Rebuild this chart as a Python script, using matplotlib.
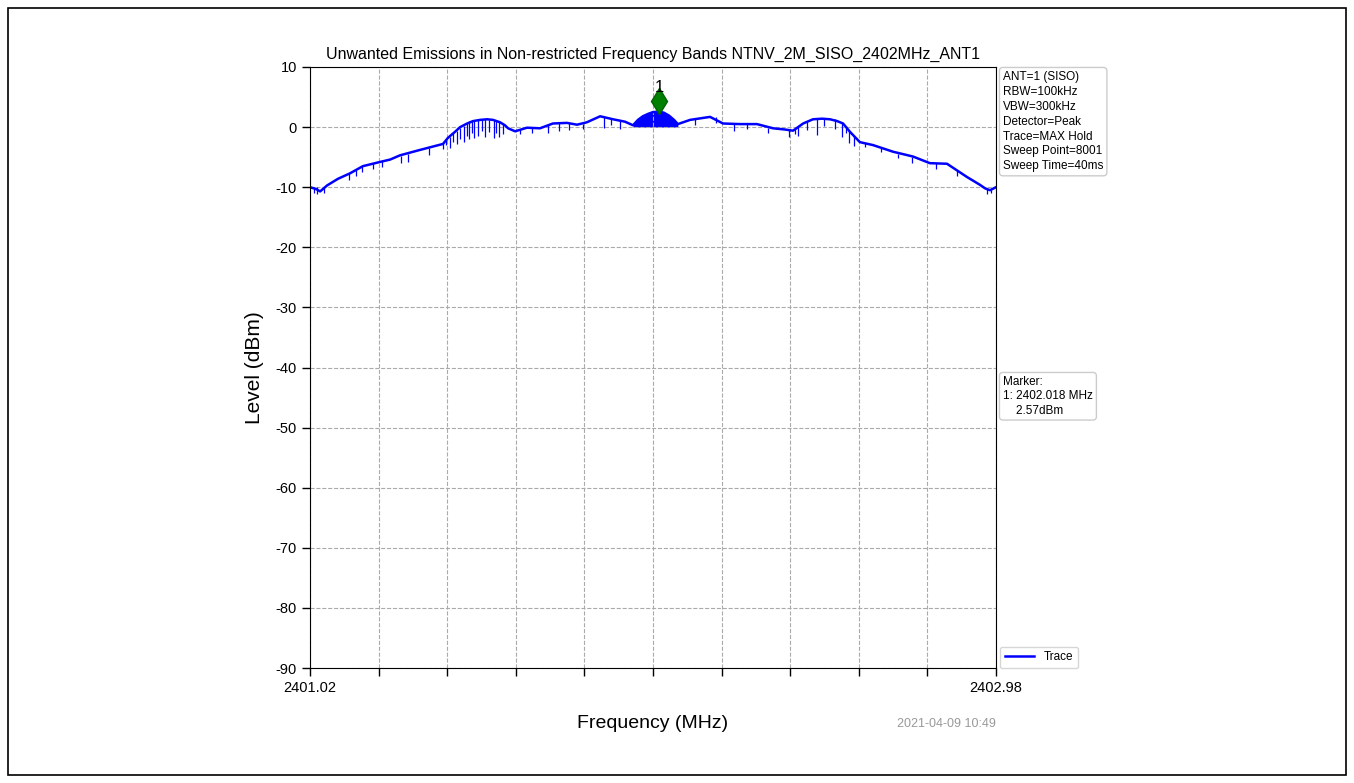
import matplotlib.pyplot as plt
from matplotlib.patches import Rectangle
from matplotlib.transforms import ScaledTranslation

plt.rcParams["font.family"] = ["Liberation Sans", "DejaVu Sans"]
plt.rcParams["axes.unicode_minus"] = False

# Max-hold trace (MHz, dBm)
freq = [2401.020, 2401.037, 2401.049, 2401.069, 2401.100, 2401.134, 2401.171,
        2401.220, 2401.249, 2401.277, 2401.334, 2401.400, 2401.414, 2401.434,
        2401.449, 2401.469, 2401.486, 2401.506, 2401.526, 2401.543, 2401.563,
        2401.577, 2401.586, 2401.606, 2401.640, 2401.677, 2401.714, 2401.754,
        2401.783, 2401.811, 2401.849, 2401.886, 2401.920, 2401.943, 2401.957,
        2401.971, 2401.986, 2402.000, 2402.018, 2402.031, 2402.046, 2402.060,
        2402.071, 2402.106, 2402.163, 2402.200, 2402.249, 2402.297, 2402.343,
        2402.377, 2402.400, 2402.429, 2402.457, 2402.483, 2402.506, 2402.526,
        2402.543, 2402.563, 2402.591, 2402.629, 2402.686, 2402.743, 2402.791,
        2402.840, 2402.897, 2402.934, 2402.949, 2402.963, 2402.980]
level = [-10.0, -10.3, -10.7, -9.7, -8.6, -7.7, -6.5,
         -5.8, -5.4, -4.7, -3.8, -2.8, -1.8, -0.8,
         0.0, 0.6, 1.0, 1.2, 1.3, 1.2, 0.8,
         0.3, -0.2, -0.7, -0.1, -0.2, 0.6, 0.7,
         0.4, 0.8, 1.8, 1.3, 0.9, 0.3, 1.2,
         1.8, 2.2, 2.5, 2.57, 2.4, 1.9, 1.2,
         0.5, 1.2, 1.7, 0.6, 0.5, 0.5, -0.2,
         -0.4, -0.6, 0.6, 1.3, 1.4, 1.3, 1.0,
         0.6, -0.8, -2.5, -3.0, -4.1, -4.9, -6.0,
         -6.1, -8.3, -9.6, -10.2, -10.5, -10.0]

# central lobe, filled down to its floor
lobe_freq = [2401.943, 2401.957, 2401.971, 2401.986, 2402.000, 2402.018,
             2402.031, 2402.046, 2402.060, 2402.071]
lobe_top = [0.3, 1.2, 1.8, 2.2, 2.5, 2.57, 2.4, 1.9, 1.2, 0.5]
lobe_floor = [0.0, 0.0, 0.0, 0.0, 0.0, 0.0, 0.0, 0.0, 0.0, 0.0]

# downward spikes of the trace
spike_freq = [2401.030, 2401.040, 2401.060, 2401.131, 2401.150, 2401.168,
              2401.200, 2401.226, 2401.280, 2401.300, 2401.360, 2401.400,
              2401.410, 2401.420, 2401.430, 2401.440, 2401.450, 2401.460,
              2401.468, 2401.475, 2401.483, 2401.490, 2401.500, 2401.510,
              2401.520, 2401.530, 2401.545, 2401.552, 2401.560, 2401.570,
              2401.620, 2401.655, 2401.700, 2401.730, 2401.760, 2401.800,
              2401.860, 2401.880, 2401.905, 2402.120, 2402.180, 2402.230,
              2402.270, 2402.330, 2402.390, 2402.405, 2402.415, 2402.440,
              2402.470, 2402.490, 2402.520, 2402.540, 2402.550, 2402.560,
              2402.575, 2402.605, 2402.650, 2402.700, 2402.740, 2402.810,
              2402.870, 2402.955, 2402.965]
spike_low = [-11.0, -11.2, -11.0, -8.8, -8.2, -7.5,
             -6.9, -6.6, -6.0, -5.8, -4.6, -3.6,
             -3.0, -3.4, -2.4, -2.8, -2.0, -2.4,
             -1.4, -2.0, -1.0, -1.8, -1.4, -0.6,
             -1.6, -0.8, -1.8, -1.0, -1.6, -1.2,
             -1.2, -1.0, -0.9, -0.6, -0.4, -0.3,
             -0.2, 0.4, -0.3, 0.3, 0.6, -0.6,
             -0.3, -0.9, -1.6, -1.2, -1.5, -0.4,
             -1.3, 0.2, -0.3, -1.6, -1.0, -2.6,
             -3.2, -3.3, -4.2, -5.2, -6.0, -7.0,
             -8.2, -11.2, -11.0]
spike_high = [-10.0, -10.0, -10.2, -7.6, -7.2, -6.5,
              -6.0, -5.7, -4.8, -4.4, -3.5, -2.6,
              -2.2, -1.6, -1.0, -0.6, -0.2, 0.2,
              0.6, 1.0, 1.1, 1.2, 1.2, 1.3,
              1.3, 1.2, 1.2, 1.0, 0.9, 0.5,
              -0.3, -0.1, 0.3, 0.6, 0.7, 0.5,
              1.7, 1.5, 1.1, 1.3, 1.6, 0.6,
              0.5, -0.1, -0.5, -0.3, 0.0, 0.9,
              1.3, 1.4, 1.4, 0.6, 0.2, -0.6,
              -1.5, -2.6, -3.4, -4.4, -4.9, -6.0,
              -7.2, -10.3, -10.4]

marker_freq = 2402.018
marker_level = 2.57

x_ticks = [2401.02 + 0.196 * i for i in range(11)]
x_labels = ["2401.02"] + [""] * 9 + ["2402.98"]
y_ticks = list(range(-90, 11, 10))

info_text = ("ANT=1 (SISO)\nRBW=100kHz\nVBW=300kHz\nDetector=Peak\n"
             "Trace=MAX Hold\nSweep Point=8001\nSweep Time=40ms")
marker_text = "Marker:\n1: %.3f MHz\n    %.2fdBm" % (marker_freq, marker_level)

fig = plt.figure(figsize=(13.54, 7.83), dpi=100)
ax = fig.add_axes([310 / 1354, 1 - 668 / 783, 686 / 1354, 601 / 783])

ax.plot(freq, level, color="blue", lw=1.8, label="Trace", solid_joinstyle="round")
ax.fill_between(lobe_freq, lobe_floor, lobe_top, color="blue", lw=0)
ax.vlines(spike_freq, spike_low, spike_high, color="blue", lw=0.9)

# marker diamond sits just above the peak it labels
lift = ScaledTranslation(0, 11 / 100, fig.dpi_scale_trans)
ax.plot([marker_freq], [marker_level], marker="d", color="green", ms=13,
        mec="darkgreen", ls="none", transform=ax.transData + lift)
ax.annotate("1", (marker_freq, marker_level), xytext=(0, 12), textcoords="offset points",
            ha="center", va="bottom", fontsize=12)

ax.set_xlim(2401.02, 2402.98)
ax.set_ylim(-90, 10)
ax.set_xticks(x_ticks)
ax.set_xticklabels(x_labels, fontsize=10.5)
ax.set_yticks(y_ticks)
ax.tick_params(axis="y", labelsize=10.5)
ax.tick_params(length=6, width=1)
ax.grid(True, color="#aaaaaa", ls="--", lw=0.8)

ax.set_title("Unwanted Emissions in Non-restricted Frequency Bands NTNV_2M_SISO_2402MHz_ANT1",
             fontsize=11.5, pad=6)
ax.set_xlabel("Frequency (MHz)", fontsize=14, labelpad=14)
ax.set_ylabel("Level (dBm)", fontsize=15, labelpad=8)

box = dict(boxstyle="round,pad=0.3", fc="white", ec="#cccccc", lw=1)
fig.text(1003 / 1354, 1 - 71 / 783, info_text, fontsize=8.5, va="top", ha="left",
         linespacing=1.32, bbox=box)
fig.text(1003 / 1354, 1 - 376 / 783, marker_text, fontsize=8.5, va="top", ha="left",
         linespacing=1.25, bbox=box)
fig.text(996 / 1354, 1 - 724 / 783, "2021-04-09 10:49", fontsize=9, color="#999999",
         ha="right", va="center")

ax.legend(loc="lower left", bbox_to_anchor=(1.006, 0.0), borderaxespad=0,
          fontsize=8.5, handlelength=2.5, edgecolor="#cccccc", fancybox=True)

fig.add_artist(Rectangle((8 / 1354, 8 / 783), 1338 / 1354, 767 / 783,
                         transform=fig.transFigure, fill=False, ec="black", lw=1.2))

fig.savefig("out.png", dpi=100)
